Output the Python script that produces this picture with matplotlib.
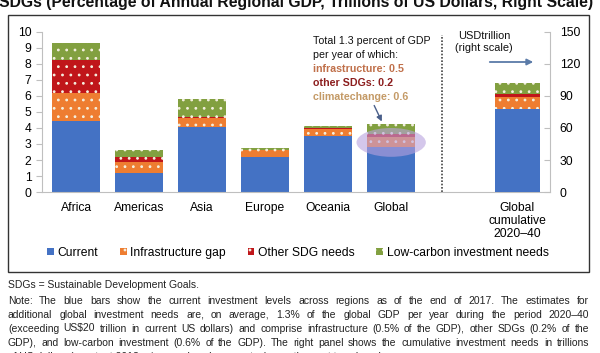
import matplotlib.pyplot as plt
from matplotlib.patches import Ellipse, Rectangle, Patch, FancyArrowPatch

plt.rcParams['font.family'] = ['Liberation Sans', 'DejaVu Sans']
plt.rcParams['hatch.linewidth'] = 0.8

# values
regions = ['Africa', 'Americas', 'Asia', 'Europe', 'Oceania', 'Global']
current = [4.45, 1.2, 4.08, 2.17, 3.5, 2.8]
infra_gap = [1.75, 0.67, 0.52, 0.45, 0.45, 0.62]
other_sdg = [2.05, 0.3, 0.1, 0.03, 0.05, 0.22]
low_carbon = [1.05, 0.45, 1.1, 0.1, 0.12, 0.63]

cum_label = 'Global\ncumulative\n2020\u201340'
cum_current = 78
cum_infra = 11
cum_other = 3
cum_low_carbon = 10.5

left_ticks = list(range(0, 11))
right_ticks = [0, 30, 60, 90, 120, 150]

series_names = ['Current', 'Infrastructure gap', 'Other SDG needs', 'Low-carbon investment needs']
colors = ['#4472C4', '#EE7D31', '#C0161A', '#82A040']
hatches = [None, '..', '..', '..']

title = 'SDGs (Percentage of Annual Regional GDP, Trillions of US Dollars, Right Scale)'
source_line = 'SDGs = Sustainable Development Goals.'
note_lines = [
    'Note: The blue bars show the current investment levels across regions as of the end of 2017. The estimates for',
    'additional global investment needs are, on average, 1.3% of the global GDP per year during the period 2020\u201340',
    '(exceeding US$20 trillion in current US dollars) and comprise infrastructure (0.5% of the GDP), other SDGs (0.2% of the',
    'GDP), and low-carbon investment (0.6% of the GDP). The right panel shows the cumulative investment needs in trillions',
    'of US dollars (constant 2018 prices and exchange rates) over the next two decades.',
]

W, H = 600, 353
fig = plt.figure(figsize=(6, 3.53), dpi=100)


def fx(px):
    return px / W


def fy(py):
    return 1 - py / H


# outer frame
fig.patches.append(Rectangle((fx(8), fy(272)), fx(589) - fx(8), fy(15) - fy(272),
                             transform=fig.transFigure, fill=False,
                             edgecolor='#333333', linewidth=1.0))

ax = fig.add_axes([fx(42), fy(192), fx(550) - fx(42), fy(32) - fy(192)])
ax2 = ax.twinx()

x = list(range(len(regions)))
x_cum = len(regions) + 1
bw = 0.76

stacks = [current, infra_gap, other_sdg, low_carbon]
bottom = [0.0] * len(regions)
for vals, c, h in zip(stacks, colors, hatches):
    ax.bar(x, vals, bw, bottom=bottom, color=c, hatch=h, edgecolor='#F4F0E0', linewidth=0)
    bottom = [b + v for b, v in zip(bottom, vals)]

cum_stack = [cum_current, cum_infra, cum_other, cum_low_carbon]
b = 0
for v, c, h in zip(cum_stack, colors, hatches):
    ax2.bar(x_cum, v, 0.72, bottom=b, color=c, hatch=h, edgecolor='#F4F0E0', linewidth=0)
    b += v

ax.set_xlim(-0.54, 7.52)
ax.set_ylim(0, 10)
ax2.set_ylim(0, 150)
ax.set_yticks(left_ticks)
ax2.set_yticks(right_ticks)
ax.set_xticks(x + [x_cum])
ax.set_xticklabels(regions + [cum_label], fontsize=8.7, linespacing=1.1)
ax.tick_params(axis='x', length=0, pad=7)
ax.tick_params(axis='y', labelsize=8.7, length=4, color='#BFBFBF', pad=3.5)
ax2.tick_params(axis='y', labelsize=8.7, length=4, color='#BFBFBF', direction='in', pad=7)
for a in (ax, ax2):
    a.spines['top'].set_visible(False)
    for s in ('left', 'right', 'bottom'):
        a.spines[s].set_color('#BFBFBF')
ax.spines['right'].set_visible(False)
ax2.spines['left'].set_visible(False)
ax2.spines['bottom'].set_visible(False)

# separator between panels
ax.axvline(5.81, ymin=0, ymax=0.98, color='#444444', linestyle=(0, (1, 1)), linewidth=1.2)

# highlight around the global bar
ax.add_patch(Ellipse((5.0, 3.1), 1.1, 1.8, facecolor='#B8A2DE', alpha=0.6,
                     edgecolor='none', zorder=3))

# annotation text
tx, ty = 313, 41
lines = [('Total 1.3 percent of GDP', '#111111', 'normal'),
         ('per year of which:', '#111111', 'normal'),
         ('infrastructure: 0.5', '#C0704A', 'bold'),
         ('other SDGs: 0.2', '#8C1E1E', 'bold'),
         ('climatechange: 0.6', '#C49A66', 'bold')]
for i, (s, c, w) in enumerate(lines):
    fig.text(fx(tx), fy(ty + 14 * i), s, color=c, fontweight=w, fontsize=7.7, va='center')
fig.patches.append(FancyArrowPatch(
    (fx(373), fy(103)), (fx(383), fy(124)), transform=fig.transFigure,
    arrowstyle='-|>', mutation_scale=8, color='#4A5F8A', linewidth=1.0))

fig.text(fx(484), fy(42), 'USDtrillion\n(right scale)', fontsize=7.9, ha='center', va='center',
         linespacing=1.35, color='#111111')
fig.patches.append(FancyArrowPatch(
    (fx(487), fy(62)), (fx(536), fy(62)), transform=fig.transFigure,
    arrowstyle='-|>', mutation_scale=9, color='#5B7BA8', linewidth=1.3))

# legend
handles = [Patch(facecolor=c, hatch=h, edgecolor='#F4F0E0', linewidth=0) for c, h in zip(colors, hatches)]
fig.legend(handles, series_names, loc='center', bbox_to_anchor=(fx(298), fy(253)), ncol=4,
           frameon=False, fontsize=8.7, handlelength=0.55, handleheight=0.55,
           handletextpad=0.3, columnspacing=1.8)

# title (cut off at the top in the reference)
fig.text(fx(-1), fy(7), title, fontsize=11.3, fontweight='bold', va='baseline', color='#111111')

# footnotes, justified to the frame width (last line cut at the bottom, as in the reference)
renderer = fig.canvas.get_renderer()
fs = 7.5
kw = dict(fontsize=fs, va='baseline', color='#222222', parse_math=False)
fig.text(fx(8), fy(288), source_line, **kw)
x0, x1 = 8, 589
for i, line in enumerate(note_lines):
    yy = fy(303.5 + 14 * i)
    words = line.split(' ')
    if i == len(note_lines) - 1:
        fig.text(fx(x0), yy, line, **kw)
        continue
    objs = [fig.text(0, yy, w_, **kw) for w_ in words]
    widths = [o.get_window_extent(renderer).width for o in objs]
    gap = (x1 - x0 - sum(widths)) / (len(words) - 1)
    pos = x0
    for o, wd in zip(objs, widths):
        o.set_x(fx(pos))
        pos += wd + gap

fig.savefig('out.png', dpi=100)
